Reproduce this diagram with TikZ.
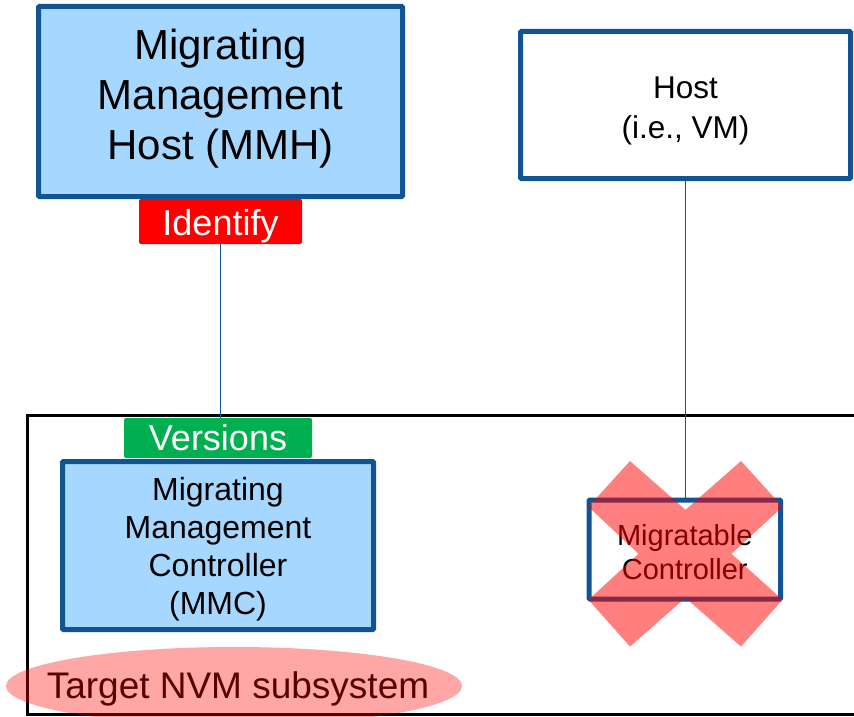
\documentclass[tikz,border=0pt]{standalone}
\usepackage{fontspec}
\setmainfont{Liberation Sans}
\definecolor{hostblue}{RGB}{16,84,148}
\definecolor{hostfill}{RGB}{166,216,255}
\definecolor{tagred}{RGB}{255,0,0}
\definecolor{taggreen}{RGB}{0,176,80}
\newcommand{\padtop}[1]{\rule{0pt}{#1}}
\newcommand{\padbottom}[1]{\rule[-#1]{0pt}{0pt}}

\begin{document}
\begin{tikzpicture}[x=1pt,y=-1pt]
        \tikzstyle{every node}=[inner sep=0pt, align=center]
        \tikzstyle{hostbox}=[rectangle, draw=hostblue, line width=5pt, rounded corners=1pt]
        \tikzstyle{tag}=[rectangle, rounded corners=2pt, text=white, font=\fontsize{36}{40}\selectfont]
        \tikzstyle{conn}=[draw=hostblue, line width=1.5pt]
        \useasboundingbox (0,0) rectangle (854,717);
        \node[rectangle, draw, line width=3pt, minimum width=873pt, minimum height=299pt] (subsys) at (463.5,564.5) {};
        \node[hostbox, fill=hostfill, minimum width=364pt, minimum height=190pt, font=\fontsize{42}{50}\selectfont] (mmh) at (220.5,101.5) {Migrating\\Management\\Host (MMH)\padbottom{14pt}};
        \node[tag, fill=tagred, minimum width=163pt, minimum height=45pt] (identify) at (220.5,221.5) {\padtop{36pt}Identify};
        \node[hostbox, fill=white, minimum width=330pt, minimum height=147pt, font=\fontsize{31.5}{40}\selectfont] (host) at (685.5,105) {\padtop{34.5pt}Host\\(i.e., VM)};
        \node[tag, fill=taggreen, minimum width=188pt, minimum height=40pt] (versions) at (218,438) {Versions};
        \node[hostbox, fill=hostfill, minimum width=311pt, minimum height=168pt, font=\fontsize{32}{38}\selectfont] (mmc) at (218,545.5) {\padtop{30pt}Migrating\\Management\\Controller\\(MMC)};
        \node[hostbox, fill=white, minimum width=191.5pt, minimum height=99pt, font=\fontsize{29}{34}\selectfont] (mc) at (684.75,549.5) {\padtop{27pt}Migratable\\Controller};
        \node[font=\fontsize{37}{40}\selectfont] (target) at (238,689) {Target NVM subsystem};
        \coordinate (tgt) at (234,686);
        \fill[red, fill opacity=.35] (tgt) ellipse [x radius=228pt, y radius=39pt];
        \draw[conn] (identify.south) -- (identify.south |- versions.north);
        \draw[conn] (host.south) -- (host.south |- mc.north);
        \coordinate (cross) at (685.5,553.8);
        \fill[red, fill opacity=.5, shift={(cross)}] (-97,-47) -- (-55.5,-92.8) -- (0,-44) -- (55.5,-92.8) -- (97,-47) -- (46,0) -- (97,46) -- (55.5,92.8) -- (0,44) -- (-55.5,92.8) -- (-97,46) -- (-47,0) -- cycle;
\end{tikzpicture}
\end{document}
